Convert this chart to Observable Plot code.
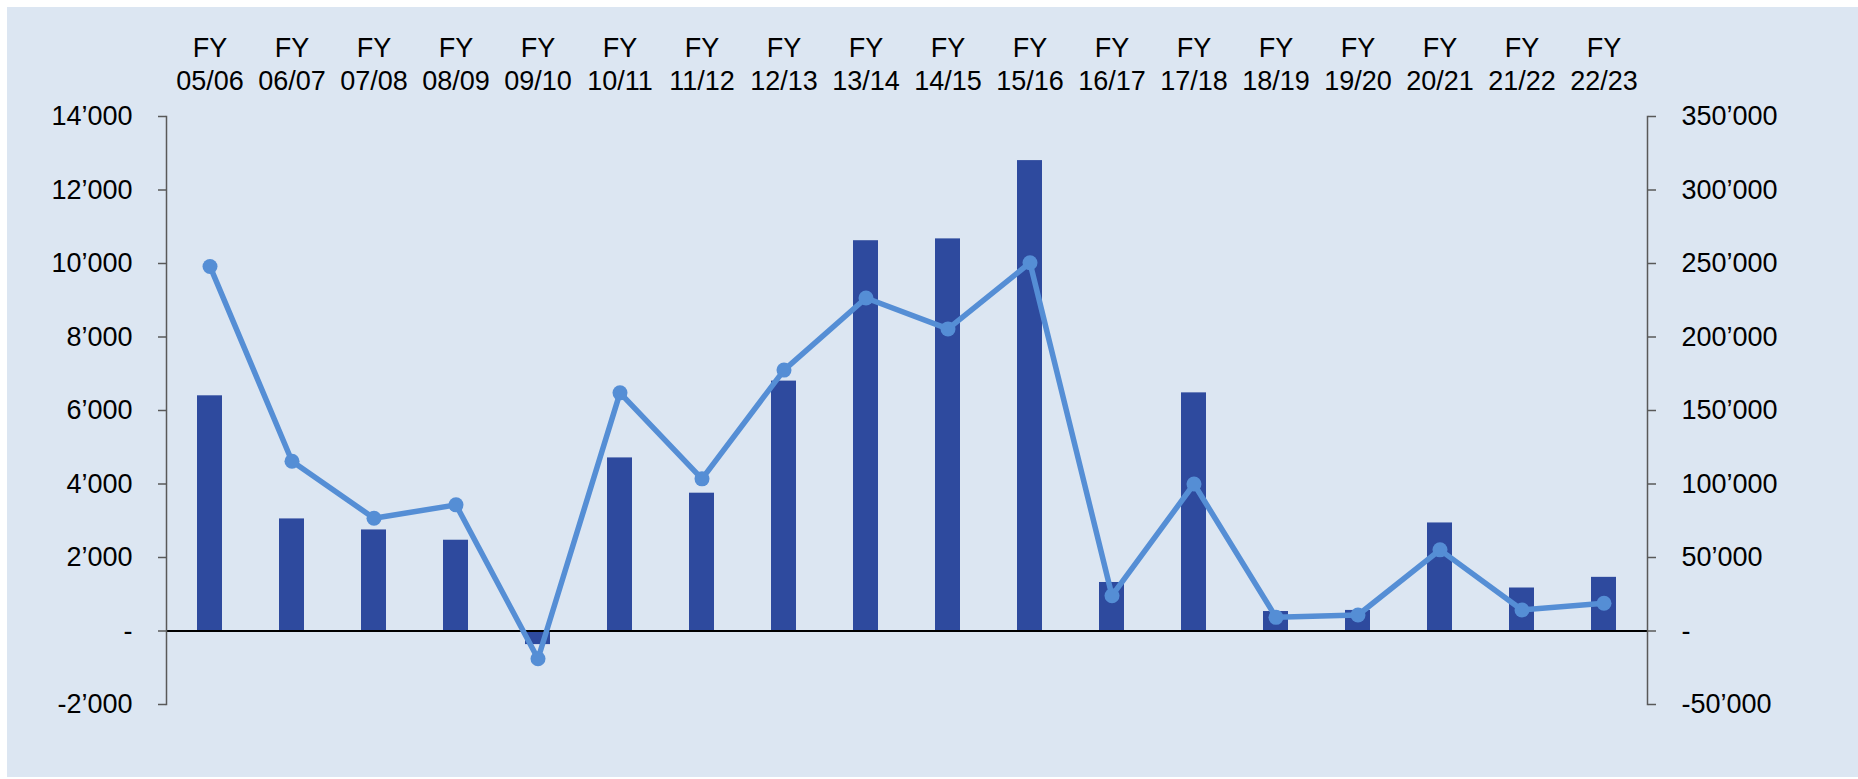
<!DOCTYPE html>
<html>
<head>
<meta charset="utf-8">
<script src="https://cdn.jsdelivr.net/npm/d3@7"></script>
<script src="https://cdn.jsdelivr.net/npm/@observablehq/plot@0.6"></script>
<style>
  html, body { margin: 0; padding: 0; background: #ffffff; width: 1858px; height: 779px; overflow: hidden; }
  #panel { position: absolute; left: 7px; top: 7px; width: 1851px; height: 770px; background: #DCE6F2; }
  #chart { position: absolute; left: 0; top: 0; }
  #chart svg { background: transparent; }
</style>
</head>
<body>
<div id="panel"></div>
<div id="chart"></div>
<script>
const categories = ["05/06","06/07","07/08","08/09","09/10","10/11","11/12","12/13","13/14","14/15","15/16","16/17","17/18","18/19","19/20","20/21","21/22","22/23"];
const barValues = [6400, 3050, 2750, 2470, -370, 4710, 3750, 6800, 10620, 10670, 12800, 1320, 6480, 530, 560, 2940, 1170, 1460];
const lineValues = [248000, 115500, 76700, 85800, -18900, 162000, 103500, 177500, 226500, 205500, 250500, 24000, 100000, 9300, 10900, 55200, 14300, 18900];
const leftTicks = [-2000, 0, 2000, 4000, 6000, 8000, 10000, 12000, 14000];
const rightTicks = [-50000, 0, 50000, 100000, 150000, 200000, 250000, 300000, 350000];

const ratio = 25; // right axis units per left axis unit
const data = categories.map((c, i) => ({cat: c, bar: barValues[i], line: lineValues[i]}));

const locale = d3.formatLocale({decimal: ".", thousands: "\u2019", grouping: [3], currency: ["", ""], minus: "-"});
const fmtNum = locale.format(",");
const fmt = v => v === 0 ? "-" : fmtNum(v);

const font = "'Liberation Sans', Arial, sans-serif";
const axisColor = "#595959";

const chart = Plot.plot({
  width: 1858,
  height: 779,
  marginLeft: 166,
  marginRight: 211,
  marginTop: 116,
  marginBottom: 75,
  style: {fontFamily: font, fontSize: "27px", background: "transparent", color: "#000"},
  x: {domain: categories, paddingInner: 0.69, paddingOuter: 0.345, axis: null},
  y: {domain: [-2000, 14000], axis: null},
  marks: [
    Plot.barY(data, {x: "cat", y: "bar", fill: "#2E4A9E"}),
    Plot.ruleY([0], {stroke: "#000", strokeWidth: 2}),
    Plot.frame({anchor: "left", stroke: axisColor, strokeWidth: 1.5}),
    Plot.frame({anchor: "right", stroke: axisColor, strokeWidth: 1.5}),
    Plot.axisY({anchor: "left", label: null, ticks: leftTicks, tickSize: 8, tickPadding: 26, tickFormat: fmt, stroke: axisColor, strokeWidth: 1.5, fill: "#000", fontSize: 27}),
    Plot.axisY({anchor: "right", label: null, ticks: rightTicks.map(v => v / ratio), tickSize: 8, tickPadding: 26, tickFormat: v => fmt(Math.round(v * ratio)), stroke: axisColor, strokeWidth: 1.5, fill: "#000", fontSize: 27, textAnchor: "start"}),
    Plot.line(data, {x: "cat", y: d => d.line / ratio, stroke: "#558ED5", strokeWidth: 5.5}),
    Plot.dot(data, {x: "cat", y: d => d.line / ratio, r: 7.5, fill: "#558ED5"}),
    Plot.text(categories, {x: d => d, text: d => "FY\n" + d, frameAnchor: "top", lineAnchor: "top", dy: -83, lineHeight: 1.22, fontSize: 27, fill: "#000"})
  ]
});
document.getElementById("chart").appendChild(chart);
</script>
</body>
</html>
